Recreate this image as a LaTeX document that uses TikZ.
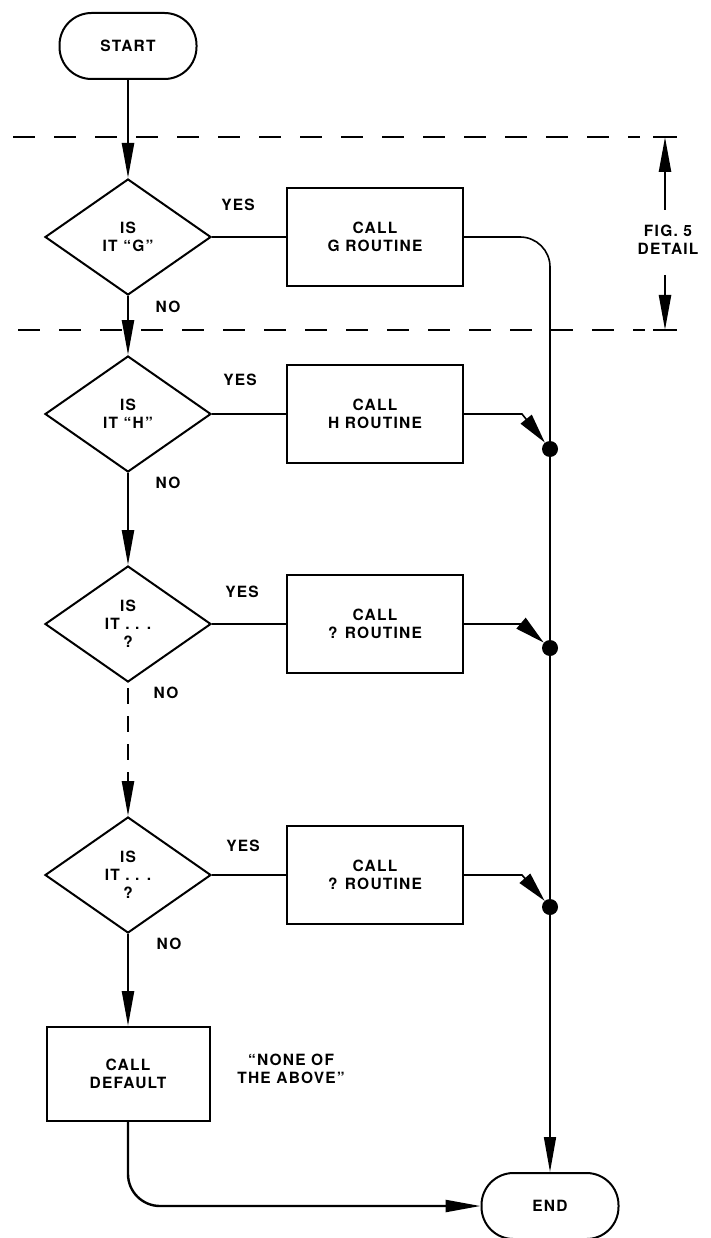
\documentclass[tikz,border=0pt]{standalone}
\usepackage{fontspec}
\setmainfont{TeX Gyre Heros}[LetterSpace=8]
\usetikzlibrary{shapes.geometric,arrows.meta}

\begin{document}
\begin{tikzpicture}[x=1pt,y=-1pt,
  every node/.style={font=\bfseries\fontsize{15.5}{18}\selectfont, align=center, inner sep=0pt},
  terminal/.style={draw, line width=2pt, rectangle, rounded corners=32pt,
    minimum width=137pt, minimum height=66pt},
  decision/.style={draw, diamond, line width=2pt, aspect=1.44,
    minimum width=166pt, minimum height=116pt},
  process/.style={draw, rectangle, line width=2pt, minimum width=176pt, minimum height=98pt},
  junction/.style={circle, fill=black, minimum size=16pt},
  flow/.style={line width=2.4pt},
  link/.style={line width=1.8pt},
  bus/.style={line width=1.6pt},
  guide/.style={line width=2pt, dash pattern=on 22pt off 19pt},
  tip/.style={-{Triangle[length=35pt,width=12pt]}},
  smalltip/.style={-{Triangle[length=30pt,width=14pt]}}
]
\useasboundingbox (0,0) rectangle (711,1238);

% terminals
\node[terminal] (start) at (128,46) {START};
\node[terminal] (end) at (550,1206) {END};

% decisions down the left column
\node[decision] (d1) at (128,237) {IS\\IT “G”};
\node[decision] (d2) at (128,414) {IS\\IT “H”};
\node[decision] (d3) at (128,624) {IS\\IT . . .\\?};
\node[decision] (d4) at (128,875) {IS\\IT . . .\\?};

% routine calls
\node[process] (b1) at (375,237) {CALL\\G ROUTINE};
\node[process] (b2) at (375,414) {CALL\\H ROUTINE};
\node[process] (b3) at (375,624) {CALL\\? ROUTINE};
\node[process] (b4) at (375,875) {CALL\\? ROUTINE};
\node[process, minimum width=163pt, minimum height=94pt] (def) at (128,1074) {CALL\\DEFAULT};

% branch labels
\node (y1) at (238,205) {YES};
\node (y2) at (240,380) {YES};
\node (y3) at (242,592) {YES};
\node (y4) at (243,846) {YES};
\node (n1) at (168,307) {NO};
\node (n2) at (168,483) {NO};
\node (n3) at (166,693) {NO};
\node (n4) at (169,944) {NO};
\node (note) at (291,1069) {“NONE OF\\THE ABOVE”};

% junctions on the return bus
\node[junction] (j2) at (550,449) {};
\node[junction] (j3) at (550,648) {};
\node[junction] (j4) at (550,907) {};

% main flow
\draw[flow, tip] (start) -- (d1.north);
\draw[flow, tip] (d1.south) -- (d2.north);
\draw[flow, tip] (d2.south) -- (d3.north);
\draw[flow, tip, dash pattern=on 16pt off 12pt, dash phase=-5pt] (d3.south) -- (d4.north);
\draw[flow, tip] (d4.south) -- (def.north);

% yes branches
\draw[link] (d1.east) -- (b1.west);
\draw[link] (d2.east) -- (b2.west);
\draw[link] (d3.east) -- (b3.west);
\draw[link] (d4.east) -- (b4.west);

% return bus
\draw[bus, rounded corners=30pt] (b1.east) -| (j2.north);
\draw[bus] (j2) -- (j3);
\draw[bus] (j3) -- (j4);
\draw[bus, tip] (j4) -- (end.north);

\coordinate (k2) at (522,414);
\coordinate (k3) at (522,624);
\coordinate (k4) at (522,875);
\draw[bus, smalltip] (b2.east) -- (k2) -- (j2);
\draw[bus, smalltip] (b3.east) -- (k3) -- (j3);
\draw[bus, smalltip] (b4.east) -- (k4) -- (j4);

\draw[flow, tip, rounded corners=32pt] (def.south) |- (end.west);

% detail region of Fig. 5
\draw[guide] (13,137) -- (640,137);
\draw[guide] (18,330) -- (645,330);
\coordinate (ftop) at (665,137);
\coordinate (fbot) at (665,330);
\coordinate (fa) at (665,210);
\coordinate (fb) at (665,275);
\draw[line width=2pt] (653,137) -- (677,137);
\draw[line width=2pt] (653,330) -- (677,330);
\draw[flow, tip] (fa) -- (ftop);
\draw[flow, tip] (fb) -- (fbot);
\node (fig) at (668,240) {FIG. 5\\DETAIL};
\end{tikzpicture}
\end{document}
